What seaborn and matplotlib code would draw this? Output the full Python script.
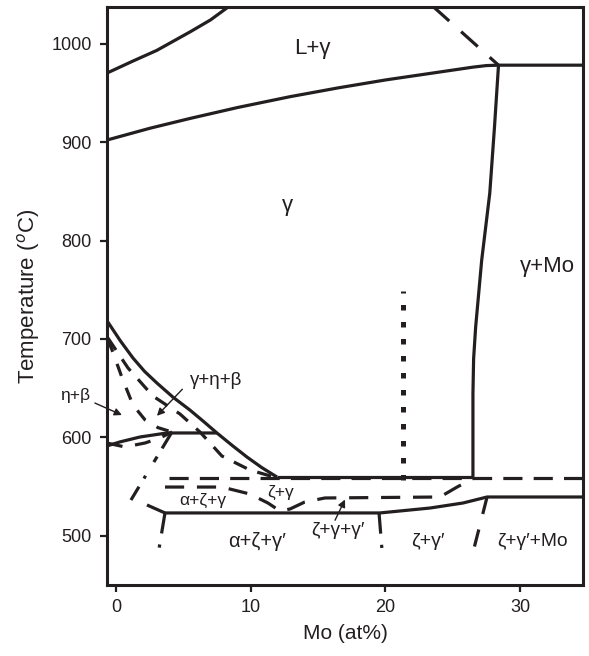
import matplotlib
matplotlib.use("Agg")
import matplotlib.pyplot as plt
import seaborn as sns

# ---------------- data (Mo at%, Temperature degC) ----------------
liq_x = [-0.7, 1.2, 3.0, 5.5, 7.0, 8.6]
liq_T = [970, 982, 993, 1012, 1024, 1040]

sol_x = [-0.7, 2.5, 5.5, 9.0, 12.9, 16.5, 20.0, 24.0, 26.5, 27.5, 28.4, 34.7]
sol_T = [902, 914, 924, 935, 946, 955, 963, 971, 976, 977.6, 978, 978]

top_dash_x = [23.5, 28.4]
top_dash_T = [1038, 978]

mo_x = [28.4, 28.1, 27.75, 27.15, 26.7, 26.55, 26.5, 26.5]
mo_T = [978, 915, 848, 780, 712, 680, 645, 560]

h560_x = [11.9, 26.5]
h560_T = [560, 560]

d560_x = [3.9, 34.7]
d560_T = [559, 559]

diag_x = [-0.65, 0.3, 1.23, 2.1, 3.01, 4.2, 5.46, 6.5, 7.47, 8.6, 9.70, 10.8, 11.93]
diag_T = [717.5, 698, 680.7, 667, 655.3, 641, 627.9, 616, 604.6, 592, 580.2, 569.5, 559.9]

curveA_x = [-0.63, -0.33, 0.41, 1.23, 2.12, 3.09, 4.13]
curveA_T = [699, 689, 661, 633, 618, 610, 605.6]

curveB_x = [-0.63, 0.86, 2.71, 4.72, 6.21, 7.84, 9.92, 11.93]
curveB_T = [701, 670.6, 642.1, 623.9, 605.6, 581.2, 567, 559]

s605_x = [-0.71, 0.26, 1.75, 3.75, 7.47]
s605_T = [591.4, 595.5, 600.5, 604.6, 604.6]

c_x = [-0.71, 0.63, 2.12, 3.23, 4.13]
c_T = [594.4, 590.4, 594.4, 599.5, 605.6]

dd1_x = [4.13, 1.08]
dd1_T = [605.6, 536.5]

slash_x = [2.27, 3.61]
slash_T = [531.5, 523.4]

low_x = [3.61, 19.59, 23.31, 25.76, 27.55, 34.7]
low_T = [523.4, 523.4, 528.4, 533.5, 539.6, 539.6]

dd2_x = [3.61, 3.16]
dd2_T = [523.4, 486.5]

dd3_x = [19.52, 19.74]
dd3_T = [523.4, 485.8]

dd4_x = [27.55, 26.51]
dd4_T = [539.6, 483.8]

curveD_x = [3.61, 7.84, 9.93, 11.26, 12.16, 12.9, 14.0, 15.5, 24.05, 25.32, 26.58]
curveD_T = [549.7, 549.7, 542.6, 533.5, 525.4, 527.4, 534.5, 538.6, 539.6, 549.7, 558.9]

dot_x = [21.28, 21.28]
dot_T = [557, 749]

labels = ["L+γ", "γ", "γ+Mo", "γ+η+β", "η+β", "α+ζ+γ", "α+ζ+γ′",
          "ζ+γ", "ζ+γ+γ′", "ζ+γ′", "ζ+γ′+Mo"]
label_x = [14.6, 12.68, 32.0, 7.4, -3.1, 6.43, 10.45, 12.23, 16.47, 23.16, 30.9]
label_T = [995.4, 836, 774, 657.4, 643, 536.5, 494, 543.7, 506, 494, 494]
label_size = [16, 16, 16, 13.5, 12.5, 12.5, 14.5, 12.5, 13.8, 14, 13.8]

x_ticks = [0, 10, 20, 30]
y_ticks = [500, 600, 700, 800, 900, 1000]

# ---------------- styling ----------------
sns.set_style("ticks")
plt.rcParams['font.family'] = ['Liberation Sans', 'DejaVu Sans']
C = '#231f20'
LW = 2.3

fig = plt.figure(figsize=(5.89, 6.56), dpi=100)
ax = fig.add_axes([107/589, 1-585/656, 476/589, 578/656])


def curve(xs, ts, ls='-', lw=LW, capstyle='butt'):
    line_kws = dict(color=C, lw=lw, linestyle=ls,
                    dash_capstyle=capstyle, solid_capstyle='butt')
    sns.lineplot(x=xs, y=ts, sort=False, estimator=None, ax=ax, **line_kws)


DASH = (0, (6, 3.5))
curve(liq_x, liq_T)
curve(sol_x, sol_T)
curve(top_dash_x, top_dash_T, ls=(0, (7, 5)))
curve(mo_x, mo_T)
curve(d560_x, d560_T, ls=DASH)
curve(h560_x, h560_T)
curve(diag_x, diag_T)
curve(curveA_x, curveA_T, ls=(0, (4, 4)))
curve(curveB_x, curveB_T, ls=(0, (4.5, 3.5)))
curve(s605_x, s605_T)
curve(c_x, c_T, ls=(0, (5, 4)))
curve(dd1_x, dd1_T, ls=(0, (6, 3, 2, 5, 1, 3)))
curve(slash_x, slash_T)
curve(low_x, low_T)
curve(dd2_x, dd2_T, ls=(0, (6.5, 3.5, 1, 3)))
curve(dd3_x, dd3_T, ls=(0, (6.5, 3.5, 1, 3)))
curve(dd4_x, dd4_T, ls=(0, (5.5, 5)))
curve(curveD_x, curveD_T, ls=(0, (6, 4)))
curve(dot_x, dot_T, ls=(0, (1.1, 2.3)), lw=3.6)

for txt, lx, lt, fs in zip(labels, label_x, label_T, label_size):
    ax.text(lx, lt, txt, ha='center', va='center', fontsize=fs,
            color=C, clip_on=False)

arrow = dict(arrowstyle='-|>', color=C, lw=1.0, mutation_scale=11,
             shrinkA=0, shrinkB=0)
ax.annotate('', xy=(3.01, 622), xytext=(4.9, 649), arrowprops=arrow,
            annotation_clip=False)
ax.annotate('', xy=(0.41, 622.8), xytext=(-1.6, 635), arrowprops=arrow,
            annotation_clip=False)
ax.annotate('', xy=(16.99, 537), xytext=(16.25, 516), arrowprops=arrow,
            annotation_clip=False)

ax.set_xlim(-0.7, 34.68)
ax.set_ylim(450.25, 1037.06)
ax.set_xticks(x_ticks)
ax.set_yticks(y_ticks)
ax.tick_params(axis='both', direction='out', length=5, width=1.6,
               color=C, labelsize=13, labelcolor=C)
ax.tick_params(axis='x', pad=5)
ax.tick_params(axis='y', pad=6)
for sp in ax.spines.values():
    sp.set_visible(True)
    sp.set_linewidth(2.2)
    sp.set_color(C)

ax.set_xlabel("Mo (at%)", fontsize=15, color=C, labelpad=6)
ax.set_ylabel("Temperature ($^{o}$C)", fontsize=16, color=C, labelpad=7)
ax.grid(False)

fig.savefig("out.png", dpi=100)
